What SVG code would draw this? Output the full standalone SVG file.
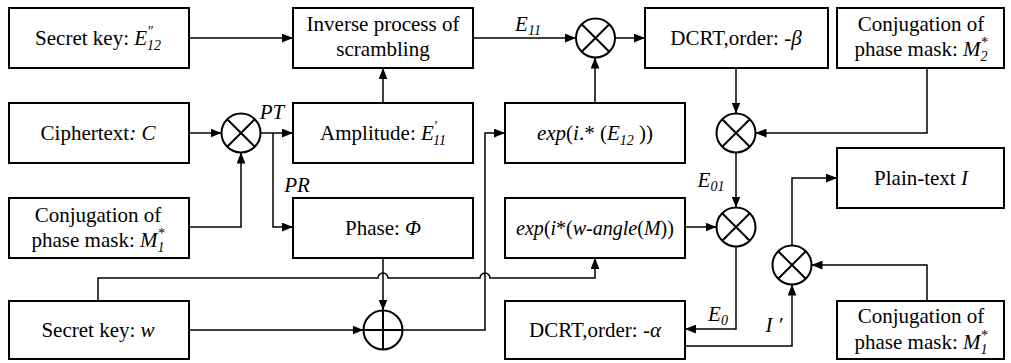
<svg xmlns="http://www.w3.org/2000/svg" width="1011" height="363" viewBox="0 0 1011 363">
<style>
text{font-family:"Liberation Serif","Times New Roman",serif;font-size:21px;fill:#000;text-anchor:middle}
.i{font-style:italic}
.s{font-size:14px;font-style:italic}
.box{fill:#fff;stroke:#000;stroke-width:2}
.op{fill:#fff;stroke:#000;stroke-width:2}
.cn{fill:none;stroke:#000;stroke-width:1.5}
.x{fill:none;stroke:#000;stroke-width:2}
.lbl{font-style:italic}
</style>
<defs>
<marker id="arr" viewBox="0 0 10 8" refX="10" refY="4" markerWidth="11" markerHeight="9" markerUnits="userSpaceOnUse" orient="auto"><path d="M0,0 L10,4 L0,8 z" fill="#000"/></marker>
</defs>
<g id="connectors">
<path class="cn" d="M189,38 H293" marker-end="url(#arr)"/>
<path class="cn" d="M473,38 H576" marker-end="url(#arr)"/>
<path class="cn" d="M615,38 H645" marker-end="url(#arr)"/>
<path class="cn" d="M595,103 V57.5" marker-end="url(#arr)"/>
<path class="cn" d="M736,68 V113.5" marker-end="url(#arr)"/>
<path class="cn" d="M927,68 V133 H755.5" marker-end="url(#arr)"/>
<path class="cn" d="M736,152.5 V207.5" marker-end="url(#arr)"/>
<path class="cn" d="M685,227 H716.5" marker-end="url(#arr)"/>
<path class="cn" d="M736,246.5 V329 H685" marker-end="url(#arr)"/>
<path class="cn" d="M685,346 H792 V284.5" marker-end="url(#arr)"/>
<path class="cn" d="M792,245.5 V178 H837" marker-end="url(#arr)"/>
<path class="cn" d="M927,301 V265 H811.5" marker-end="url(#arr)"/>
<path class="cn" d="M189,133 H221.5" marker-end="url(#arr)"/>
<path class="cn" d="M189,227 H241 V152.5" marker-end="url(#arr)"/>
<path class="cn" d="M260.5,133 H293" marker-end="url(#arr)"/>
<path class="cn" d="M273,133 V227 H293" marker-end="url(#arr)"/>
<path class="cn" d="M383,103 V68" marker-end="url(#arr)"/>
<path class="cn" d="M383,258 V310.5" marker-end="url(#arr)"/>
<path class="cn" d="M189,330 H363.5" marker-end="url(#arr)"/>
<path class="cn" d="M402.5,330 H485 V133 H505" marker-end="url(#arr)"/>
<path class="cn" d="M98,301 V278 H378 A5,5 0 0 1 388,278 H480 A5,5 0 0 1 490,278 H595 V258" marker-end="url(#arr)"/>
</g>
<g id="n-key12">
<rect class="box" x="9" y="8" width="180" height="60"/>
<text x="98" y="45">Secret key: <tspan class="i">E</tspan><tspan class="s" dy="-9">″</tspan><tspan class="s" dx="-6" dy="14">12</tspan></text>
</g>
<g id="n-inverse">
<rect class="box" x="293" y="8" width="180" height="60"/>
<text x="383" y="31">Inverse process of</text>
<text x="383" y="56">scrambling</text>
</g>
<g id="n-mulTop">
<circle class="op" cx="595.5" cy="38" r="19.5"/>
<path class="x" d="M581.7,24.2 L609.3,51.8 M609.3,24.2 L581.7,51.8"/>
</g>
<g id="n-dcrtBeta">
<rect class="box" x="645" y="8" width="183" height="60"/>
<text x="736" y="45">DCRT,order: -<tspan class="i">β</tspan></text>
</g>
<g id="n-m2">
<rect class="box" x="837" y="8" width="167" height="60"/>
<text x="921" y="31">Conjugation of</text>
<text x="921" y="56">phase mask: <tspan class="i">M</tspan><tspan class="s" dy="-9">*</tspan><tspan class="s" dx="-7" dy="14">2</tspan></text>
</g>
<g id="n-cipher">
<rect class="box" x="9" y="103" width="180" height="60"/>
<text x="98" y="140">Ciphertext<tspan class="i">: C</tspan></text>
</g>
<g id="n-mulL">
<circle class="op" cx="241" cy="133" r="19.5"/>
<path class="x" d="M227.2,119.2 L254.8,146.8 M254.8,119.2 L227.2,146.8"/>
</g>
<g id="n-amp">
<rect class="box" x="293" y="103" width="180" height="60"/>
<text x="383" y="140">Amplitude: <tspan class="i">E</tspan><tspan class="s" dy="-9">′</tspan><tspan class="s" dx="-4" dy="14">11</tspan></text>
</g>
<g id="n-expE12">
<rect class="box" x="505" y="103" width="180" height="60"/>
<text x="595" y="140"><tspan class="i">exp</tspan>(<tspan class="i">i</tspan>.* (<tspan class="i">E</tspan><tspan class="s" dy="5">12</tspan><tspan dy="-5"> ))</tspan></text>
</g>
<g id="n-mul2">
<circle class="op" cx="736" cy="133" r="19.5"/>
<path class="x" d="M722.2,119.2 L749.8,146.8 M749.8,119.2 L722.2,146.8"/>
</g>
<g id="n-m1left">
<rect class="box" x="9" y="198" width="180" height="60"/>
<text x="98" y="222">Conjugation of</text>
<text x="98" y="247">phase mask: <tspan class="i">M</tspan><tspan class="s" dy="-9">*</tspan><tspan class="s" dx="-7" dy="14">1</tspan></text>
</g>
<g id="n-phase">
<rect class="box" x="293" y="198" width="180" height="60"/>
<text x="383" y="235">Phase:  <tspan class="i">Φ</tspan></text>
</g>
<g id="n-expW">
<rect class="box" x="505" y="198" width="180" height="60"/>
<text x="595" y="235" style="font-size:20px"><tspan class="i">exp</tspan>(<tspan class="i">i</tspan>*(<tspan class="i">w-angle</tspan>(<tspan class="i">M</tspan>))</text>
</g>
<g id="n-mul3">
<circle class="op" cx="736" cy="227" r="19.5"/>
<path class="x" d="M722.2,213.2 L749.8,240.8 M749.8,213.2 L722.2,240.8"/>
</g>
<g id="n-plain">
<rect class="box" x="837" y="148" width="167" height="60"/>
<text x="921" y="185">Plain-text <tspan class="i">I</tspan></text>
</g>
<g id="n-mul4">
<circle class="op" cx="792" cy="265" r="19.5"/>
<path class="x" d="M778.2,251.2 L805.8,278.8 M805.8,251.2 L778.2,278.8"/>
</g>
<g id="n-keyW">
<rect class="box" x="9" y="301" width="180" height="58"/>
<text x="98" y="337">Secret key: <tspan class="i">w</tspan></text>
</g>
<g id="n-plus">
<circle class="op" cx="383" cy="330" r="19.5"/>
<path class="x" d="M363.5,330 H402.5 M383,310.5 V349.5"/>
</g>
<g id="n-dcrtAlpha">
<rect class="box" x="505" y="301" width="180" height="58"/>
<text x="595" y="337">DCRT,order: -<tspan class="i">α</tspan></text>
</g>
<g id="n-m1right">
<rect class="box" x="837" y="301" width="167" height="58"/>
<text x="921" y="323">Conjugation of</text>
<text x="921" y="349">phase mask: <tspan class="i">M</tspan><tspan class="s" dy="-9">*</tspan><tspan class="s" dx="-7" dy="14">1</tspan></text>
</g>
<g id="labels">
<text class="lbl" x="528" y="31">E<tspan class="s" dy="4">11</tspan></text>
<text class="lbl" x="272" y="119">PT</text>
<text class="lbl" x="297" y="192">PR</text>
<text class="lbl" x="711" y="187">E<tspan class="s" dy="4">01</tspan></text>
<text class="lbl" x="718" y="321">E<tspan class="s" dy="4">0</tspan></text>
<text class="lbl" x="774" y="332">I ′</text>
</g>
</svg>
